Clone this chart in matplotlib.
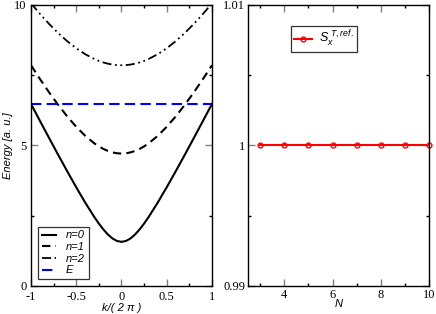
import matplotlib
matplotlib.use('Agg')
import matplotlib.pyplot as plt
from matplotlib.ticker import MultipleLocator

# band energies, k >= 0 half (curves are symmetric in k)
k_half = [0.0, 0.05, 0.1, 0.15, 0.2, 0.25, 0.3, 0.4, 0.5, 0.6, 0.7, 0.8, 0.9, 1.0]
e_n0 = [1.571, 1.602, 1.692, 1.832, 2.012, 2.221, 2.454, 2.964, 3.512, 4.084, 4.670, 5.266, 5.869, 6.477]
e_n1 = [4.712, 4.723, 4.754, 4.806, 4.877, 4.967, 5.075, 5.341, 5.664, 6.035, 6.446, 6.890, 7.361, 7.854]
e_n2 = [7.854, 7.860, 7.879, 7.910, 7.954, 8.009, 8.077, 8.246, 8.459, 8.712, 9.002, 9.325, 9.678, 10.058]
E_level = 6.48

# right panel
N = [3, 4, 5, 6, 7, 8, 9, 10]
S = [1.0, 1.0, 1.0, 1.0, 1.0, 1.0, 1.0, 1.0]

def mirror(v):
    return list(reversed(v[1:])) + v

k = [-x for x in reversed(k_half[1:])] + k_half

serif = ['Liberation Serif', 'DejaVu Serif']
sans = ['Liberation Sans', 'DejaVu Sans']
plt.rcParams['font.family'] = sans
plt.rcParams['mathtext.fontset'] = 'custom'
plt.rcParams['mathtext.it'] = 'Liberation Sans:italic'
plt.rcParams['mathtext.rm'] = 'Liberation Sans'

fig = plt.figure(figsize=(4.36, 3.14), dpi=100)
ax1 = fig.add_axes([0.0711, 0.0892, 0.415, 0.895])
ax2 = fig.add_axes([0.569, 0.0892, 0.415, 0.895])

ax1.plot(k, mirror(e_n0), color='black', lw=1.5, label='n=0')
ax1.plot(k, mirror(e_n1), color='black', lw=1.5, ls=(0, (4, 2.5)), label='n=1')
ax1.plot(k, mirror(e_n2), color='black', lw=1.3, ls=(0, (5, 2, 1, 2, 1, 2)), label='n=2')
ax1.axhline(E_level, color='blue', lw=1.5, ls=(0, (5, 2.5)), label='E')
ax1.set_xlim(-1, 1)
ax1.set_ylim(0, 10)
ax1.xaxis.set_minor_locator(MultipleLocator(0.25))
ax1.yaxis.set_minor_locator(MultipleLocator(2.5))
ax1.set_xticks([-1, -0.5, 0, 0.5, 1])
ax1.set_xticklabels(['-1', '-0.5', '0', '0.5', '1'], family=serif)
ax1.set_yticks([0, 5, 10])
ax1.set_yticklabels(['0', '5', '10'], family=serif)
ax1.set_xlabel('k/( 2 π )', fontsize=8, style='italic', labelpad=0)
ax1.set_ylabel('Energy [a. u.]', fontsize=8, style='italic')
ax1.yaxis.set_label_coords(-0.10, 0.5)
leg1 = ax1.legend(loc='lower left', handlelength=1.3, handletextpad=0.9,
                  borderaxespad=0.6, labelspacing=0.15, borderpad=0.35, fancybox=False,
                  prop={'style': 'italic', 'size': 8})
leg1.get_frame().set_edgecolor('black')
leg1.get_frame().set_linewidth(0.9)

ax2.plot(N, S, color='red', lw=1.5, marker='o', ms=3.5, mfc='none', mec='red', mew=1,
         label=r'$S_x^{\ T, ref.}$', clip_on=False)
ax2.set_xlim(2.5, 10)
ax2.set_ylim(0.99, 1.01)
ax2.xaxis.set_minor_locator(MultipleLocator(1))
ax2.yaxis.set_minor_locator(MultipleLocator(0.005))
ax2.set_yticks([0.99, 1.0, 1.01])
ax2.set_yticklabels(['0.99', '1', '1.01'], family=serif)
ax2.set_xticks([4, 6, 8, 10])
ax2.set_xticklabels(['4', '6', '8', '10'], family=serif)
ax2.set_xlabel('N', fontsize=8, style='italic', labelpad=-1)
leg2 = ax2.legend(loc='upper left', bbox_to_anchor=(0.235, 0.925), fontsize=9, handlelength=1.5,
                  handletextpad=0.5, borderpad=0.25, borderaxespad=0, fancybox=False)
leg2.get_frame().set_edgecolor('black')
leg2.get_frame().set_linewidth(0.9)

for ax in (ax1, ax2):
    for sp in ax.spines.values():
        sp.set_linewidth(1.0)
    ax.tick_params(which='both', direction='in', top=True, right=True, width=1.0)
    ax.tick_params(which='major', length=5, labelsize=9, pad=2, color='#808080')
    ax.tick_params(which='minor', length=2.5)
ax1.tick_params(axis='x', which='major', pad=3.5)
ax1.tick_params(axis='y', which='major', pad=3)

fig.savefig('out.png', dpi=100)
